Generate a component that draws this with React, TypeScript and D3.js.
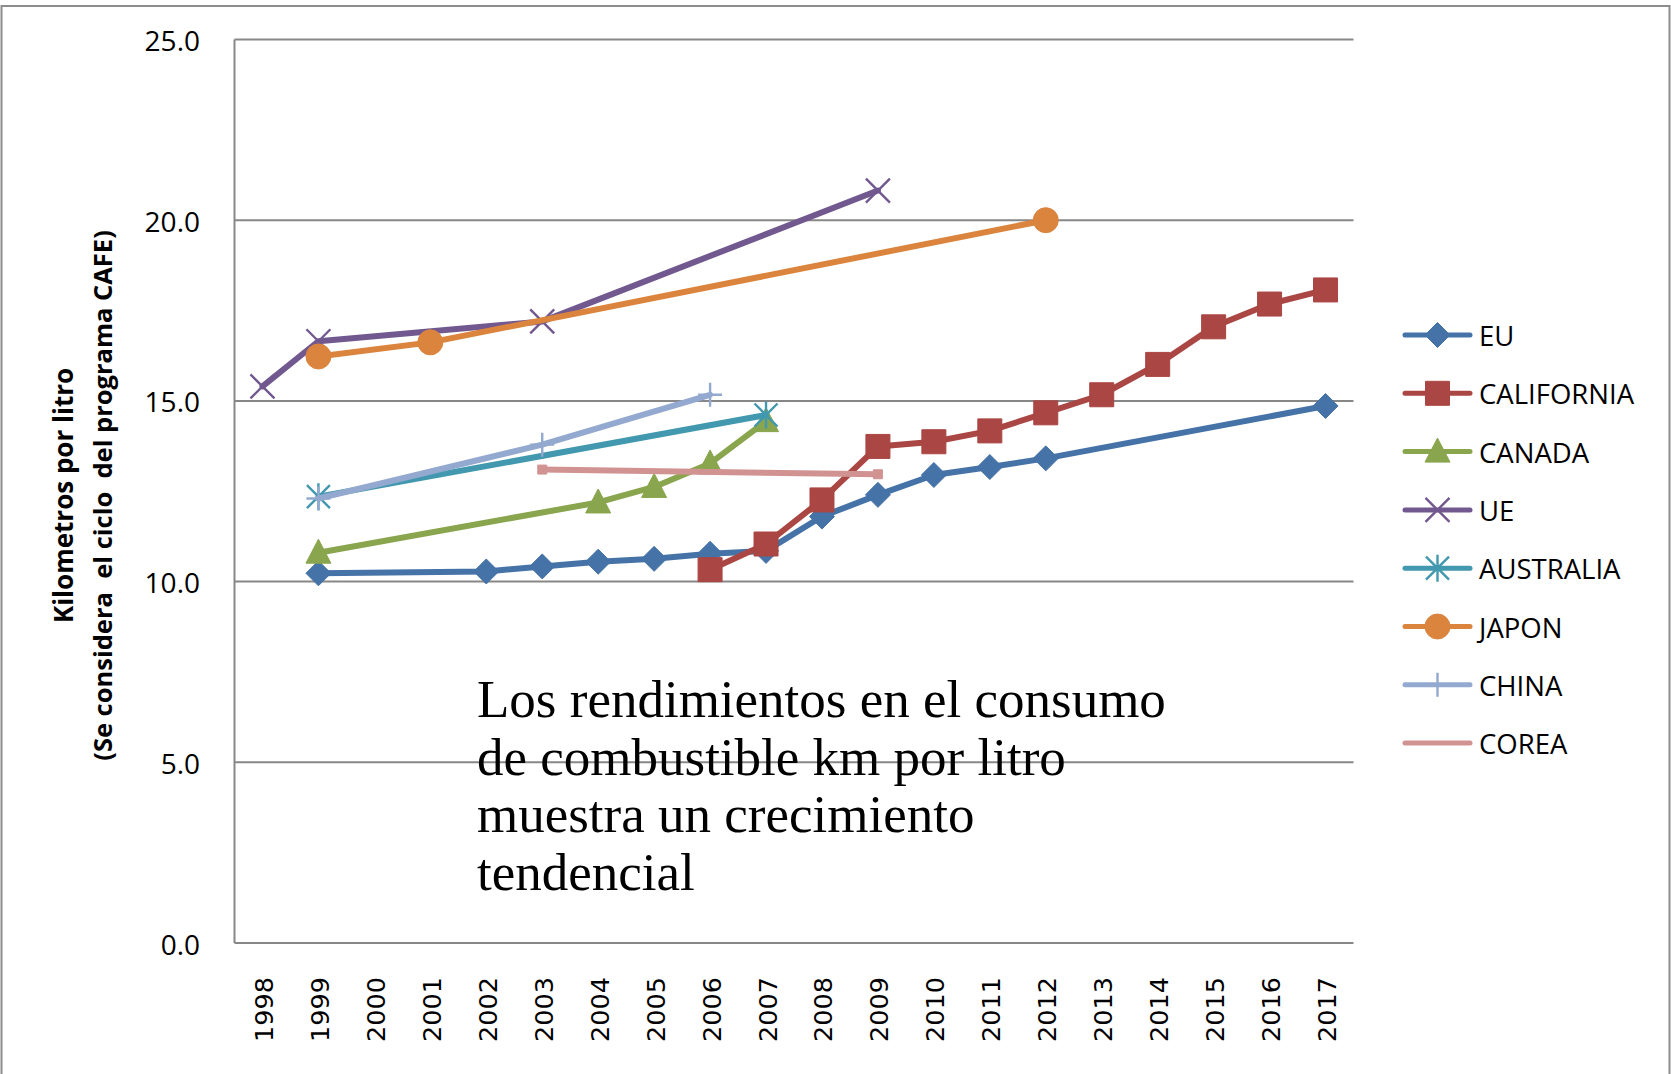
import React from 'react';
import * as d3 from 'd3';

const years = ['1998','1999','2000','2001','2002','2003','2004','2005','2006','2007','2008','2009','2010','2011','2012','2013','2014','2015','2016','2017'];
const seriesNames = ['EU','CALIFORNIA','CANADA','UE','AUSTRALIA','JAPON','CHINA','COREA'];
const seriesColors = ['#4572A7','#AA4643','#89A54E','#71588F','#4198AF','#DB843D','#93A9CF','#D19392'];
const seriesMarkers = ['diamond','square','triangle','x','star','circle','plus','smallsquare'];

const euValues = [null,10.23,null,null,10.28,10.42,10.55,10.63,10.77,10.85,11.8,12.4,12.95,13.17,13.41,null,null,null,null,14.86];
const californiaValues = [null,null,null,null,null,null,null,null,10.33,11.04,12.26,13.74,13.87,14.17,14.67,15.17,16.01,17.05,17.68,18.07];
const canadaValues = [null,10.8,null,null,null,null,12.19,12.62,13.27,14.44,null,null,null,null,null,null,null,null,null,null];
const ueValues = [15.4,16.65,null,null,null,17.2,null,null,null,null,null,20.82,null,null,null,null,null,null,null,null];
const australiaValues = [null,12.35,null,null,null,null,null,null,null,14.61,null,null,null,null,null,null,null,null,null,null];
const japonValues = [null,16.23,null,16.62,null,null,null,null,null,null,null,null,null,null,20.0,null,null,null,null,null];
const chinaValues = [null,12.3,null,null,null,13.79,null,null,15.17,null,null,null,null,null,null,null,null,null,null,null];
const coreaValues = [null,null,null,null,null,13.1,null,null,null,null,null,12.97,null,null,null,null,null,null,null,null];

const allValues = [euValues, californiaValues, canadaValues, ueValues, australiaValues, japonValues, chinaValues, coreaValues];
const yTicks = [0, 5, 10, 15, 20, 25];

const yTitle1 = 'Kilometros por litro';
const yTitle2 = '(Se considera\u00a0 el ciclo\u00a0 del programa CAFE)';
const noteLines = ['Los rendimientos en el consumo', 'de combustible km por litro', 'muestra un crecimiento', 'tendencial'];

const W = 1671, H = 1074;
const plot = { left: 234.5, right: 1353.5, top: 39.5, bottom: 943 };
const grid = '#878787';

function markerPath(type: string): { d: string; fill: boolean } {
  switch (type) {
    case 'diamond': { const h = 12.5; return { d: `M0,${-h}L${h},0L0,${h}L${-h},0Z`, fill: true }; }
    case 'square': { const h = 12; return { d: `M${-h},${-h}H${h}V${h}H${-h}Z`, fill: true }; }
    case 'smallsquare': { const h = 4.5; return { d: `M${-h},${-h}H${h}V${h}H${-h}Z`, fill: true }; }
    case 'triangle': { return { d: `M0,-13.5L12.5,10.5L-12.5,10.5Z`, fill: true }; }
    case 'circle': { const r = 12.5; return { d: `M${r},0A${r},${r} 0 1,1 ${-r},0A${r},${r} 0 1,1 ${r},0Z`, fill: true }; }
    case 'x': { const h = 12; return { d: `M${-h},${-h}L${h},${h}M${-h},${h}L${h},${-h}`, fill: false }; }
    case 'star': { const h = 11.5; return { d: `M${-h},${-h}L${h},${h}M${-h},${h}L${h},${-h}M0,${-h - 2}V${h + 2}`, fill: false }; }
    case 'plus': { const h = 12; return { d: `M0,${-h}V${h}M${-h},0H${h}`, fill: false }; }
  }
  return { d: '', fill: true };
}

function Marker({ type, color, x, y }: { type: string; color: string; x: number; y: number }) {
  const m = markerPath(type);
  return m.fill
    ? <path d={m.d} transform={`translate(${x},${y})`} fill={color} stroke={color} strokeWidth={1} />
    : <path d={m.d} transform={`translate(${x},${y})`} fill="none" stroke={color} strokeWidth={2.4} />;
}

export default function App() {
  const x = d3.scaleBand<string>().domain(years).range([plot.left, plot.right]).padding(0);
  const cx = (yr: string) => (x(yr) as number) + x.bandwidth() / 2;
  const y = d3.scaleLinear().domain([0, 25]).range([plot.bottom, plot.top]);
  const fmt = d3.format('.1f');

  const line = d3.line<{ yr: string; v: number }>().x(d => cx(d.yr)).y(d => y(d.v));

  const series = seriesNames.map((name, i) => ({
    name,
    color: seriesColors[i],
    marker: seriesMarkers[i],
    pts: years.map((yr, j) => ({ yr, v: allValues[i][j] as number | null })).filter(p => p.v != null) as { yr: string; v: number }[],
  }));

  const legendX1 = 1405, legendX2 = 1470, legendY0 = 335, legendDy = 58.3;

  return (
    <svg width={W} height={H} style={{ position: 'absolute', left: 0, top: 0, background: '#fff' }}>
      <rect x={0} y={0} width={W} height={H} fill="#fff" />
      <rect x={1.5} y={6} width={1668} height={1100} fill="none" stroke="#8c8c8c" strokeWidth={2} />

      {yTicks.map(t => (
        <line key={'g' + t} x1={plot.left} x2={plot.right} y1={y(t)} y2={y(t)} stroke={grid} strokeWidth={2} />
      ))}
      <line x1={plot.left} x2={plot.left} y1={plot.top} y2={plot.bottom} stroke={grid} strokeWidth={2} />

      {yTicks.map(t => (
        <text key={'t' + t} x={200} y={y(t) + 11.5} textAnchor="end" fontFamily="Open Sans" fontSize={28} fill="#000">{fmt(t)}</text>
      ))}

      {years.map(yr => (
        <text key={yr} transform={`translate(${cx(yr) + 10.5},977) rotate(-90)`} textAnchor="end" fontFamily="DejaVu Sans" fontSize={25.5} fill="#000">{yr}</text>
      ))}

      <text transform={`translate(${64 + 9},495.5) rotate(-90)`} textAnchor="middle" fontFamily="Open Sans" fontWeight={700} fontSize={26} fill="#000">{yTitle1}</text>
      <text transform={`translate(${103 + 9},495.5) rotate(-90)`} textAnchor="middle" fontFamily="Open Sans" fontWeight={700} fontSize={25.5} fill="#000">{yTitle2}</text>

      {series.map(s => (
        <g key={s.name}>
          <path d={line(s.pts) || ''} fill="none" stroke={s.color} strokeWidth={6} strokeLinejoin="round" strokeLinecap="round" />
          {s.pts.map(p => <Marker key={p.yr} type={s.marker} color={s.color} x={cx(p.yr)} y={y(p.v)} />)}
        </g>
      ))}

      {noteLines.map((l, i) => (
        <text key={i} x={477} y={716.7 + i * 57.8} fontFamily="Liberation Serif" fontSize={53} fill="#000">{l}</text>
      ))}

      {series.map((s, i) => {
        const ly = legendY0 + i * legendDy;
        return (
          <g key={'l' + s.name}>
            <line x1={legendX1} x2={legendX2} y1={ly} y2={ly} stroke={s.color} strokeWidth={5} strokeLinecap="round" />
            {s.marker !== 'smallsquare' && <Marker type={s.marker} color={s.color} x={(legendX1 + legendX2) / 2} y={ly} />}
            <text x={1479} y={ly + 11} fontFamily="Open Sans" fontSize={27.5} fill="#000">{s.name}</text>
          </g>
        );
      })}
    </svg>
  );
}
